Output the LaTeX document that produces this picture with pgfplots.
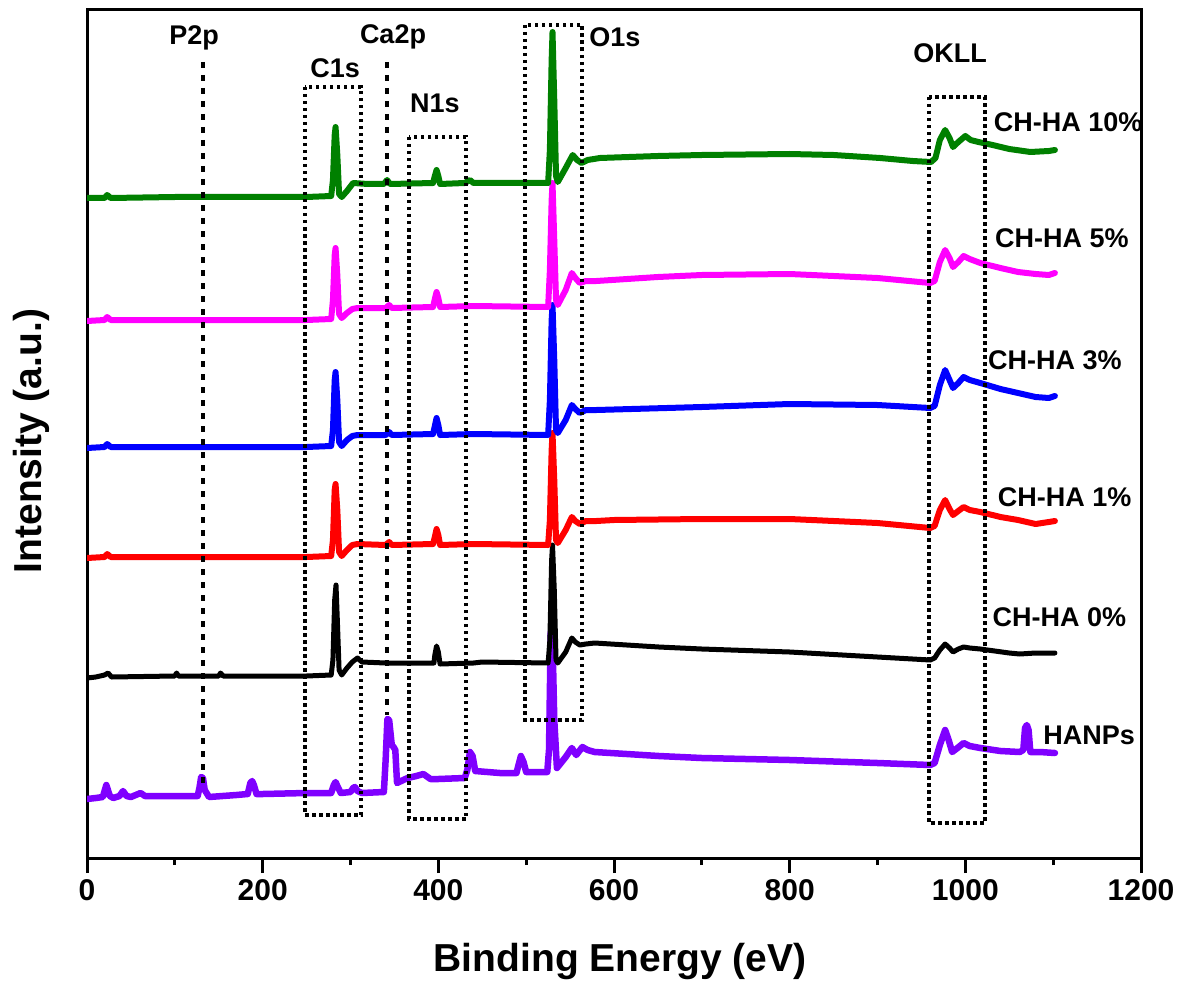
\documentclass[border=0pt]{standalone}
\usepackage{pgfplots}
\pgfplotsset{compat=1.18}
\usepackage{fontspec}
\setmainfont{Liberation Sans}
\definecolor{cgreen}{RGB}{0,128,0}
\definecolor{cmag}{RGB}{255,0,255}
\definecolor{cblue}{RGB}{0,0,255}
\definecolor{cred}{RGB}{255,0,0}
\definecolor{cpurp}{RGB}{127,0,255}
\begin{document}
\begin{tikzpicture}
\path[use as bounding box] (0,0) rectangle (1190pt,992pt);
\begin{axis}[
  at={(87pt,134pt)}, anchor=south west,
  width=1054pt, height=848pt, scale only axis,
  xmin=0, xmax=1200, ymin=10, ymax=858, y dir=reverse,
  axis line style={line width=3pt},
  xtick={0,200,...,1200}, minor xtick={100,300,...,1100},
  ytick=\empty,
  xtick pos=left,
  tick align=outside,
  major tick length=15pt, minor tick length=7pt,
  every tick/.style={black, line width=3pt},
  xticklabel style={font=\fontsize{30}{36}\selectfont\bfseries, yshift=-3pt},
  /pgf/number format/assume math mode=true,
  /pgf/number format/1000 sep={},
  xlabel={Binding Energy (eV)},
  xlabel style={font=\fontsize{39}{46}\selectfont\bfseries, at={(axis description cs:0.5057,-0.1215)}, anchor=center},
  ylabel={Intensity (a.u.)},
  ylabel style={font=\fontsize{39}{46}\selectfont\bfseries, at={(axis description cs:-0.0531,0.4917)}, anchor=center},
  every axis plot/.append style={line width=6pt, line join=round, line cap=round, no markers},
]
% HANPs
\addplot[color=cpurp, line width=6.5pt] coordinates {
(0,799)(10,798)(18,797)(22,785)(26,796)(30,798)(37,796)(41,791)(45,796)(50,797)(61,793)(66,796)(100,796)(126,796)(128,788)(130,777)(132,778)(134,790)(139,797)(170,795)(183,794)(186,783)(188,781)(190,785)(193,794)(200,794)(250,793)(278,793)(281,785)(283,782)(285,786)(289,793)(300,792)(303,788)(305,787)(308,791)(313,793)(338,792)(340,760)(342,719)(344,720)(347,745)(349,747)(351,750)(353,783)(365,778)(375,776)(383,774)(391,779)(400,779)(430,778)(433,770)(436,752)(439,756)(442,771)(470,773)(489,773)(491,766)(494,756)(497,762)(500,772)(524,772)(526,750)(528,632)(530,640)(532,720)(535,768)(545,757)(552,748)(557,755)(564,747)(570,750)(578,752)(651,756)(700,758)(800,760)(900,763)(960,765)(965,763)(971,745)(977,730)(981,740)(985,752)(991,748)(998,743)(1005,746)(1017,748)(1040,751)(1062,752)(1066,750)(1068,728)(1070,725)(1072,730)(1074,752)(1085,752)(1102,753)
};
% CH-HA 0%
\addplot[color=black, line width=5pt] coordinates {
(0,678)(10,677)(20,675)(24,673)(28,677)(100,676)(102,673)(104,676)(150,676)(152,673)(155,676)(200,676)(250,676)(278,675)(280,660)(282,600)(283.5,585)(285,620)(287,670)(290,675)(296,668)(302,662)(308,658)(313,662)(340,663)(395,663)(396,655)(398,646)(400,652)(402,664)(440,663)(450,662)(525,663)(527,640)(529,560)(530,545)(532,590)(534,660)(536,663)(545,652)(552,638)(556,642)(561,645)(568,644)(578,643)(651,647)(700,649)(800,652)(900,657)(960,660)(965,658)(971,650)(977,644)(982,648)(986,652)(992,649)(998,647)(1005,648)(1017,649)(1050,653)(1062,654)(1080,653)(1102,653)
};
% CH-HA 1%
\addplot[color=cred] coordinates {
(0,558)(20,557)(23,554)(27,557)(100,557)(200,557)(250,557)(278,556)(280,540)(282,490)(283,484)(285,510)(287,552)(290,556)(296,550)(302,545)(308,544)(340,545)(344,542)(347,545)(394,544)(396,537)(398,529)(400,535)(402,545)(440,544)(525,545)(527,520)(529,450)(530,433)(532,480)(534,540)(536,543)(545,530)(552,517)(556,521)(561,524)(568,521)(580,521)(600,520)(700,519)(800,519)(900,523)(960,528)(965,526)(971,510)(977,500)(982,509)(986,515)(992,511)(998,507)(1005,510)(1017,512)(1040,517)(1060,520)(1080,524)(1095,522)(1102,521)
};
% CH-HA 3%
\addplot[color=cblue] coordinates {
(0,448)(20,447)(23,444)(27,447)(100,447)(200,447)(250,447)(278,446)(280,430)(282,380)(283,372)(285,400)(287,442)(290,446)(296,440)(302,436)(308,435)(340,435)(344,432)(347,435)(394,434)(396,426)(398,418)(400,425)(402,435)(440,434)(525,435)(527,400)(529,320)(530,305)(532,360)(534,430)(536,433)(545,420)(552,405)(556,409)(561,413)(568,410)(580,410)(700,407)(800,404)(900,405)(960,408)(965,406)(971,385)(977,370)(982,380)(986,388)(992,383)(998,377)(1005,380)(1017,383)(1040,389)(1060,393)(1080,397)(1095,398)(1102,396)
};
% CH-HA 5%
\addplot[color=cmag] coordinates {
(0,321)(20,320)(23,317)(27,320)(100,320)(200,320)(250,320)(278,319)(280,300)(282,255)(283,248)(285,275)(287,314)(290,318)(296,313)(302,309)(308,308)(340,308)(344,305)(347,308)(394,307)(396,299)(398,292)(400,298)(402,307)(440,306)(525,307)(527,270)(529,200)(530,183)(532,240)(534,300)(536,305)(545,290)(552,273)(556,278)(561,283)(568,281)(580,281)(650,277)(700,275)(800,274)(900,278)(960,283)(965,281)(971,262)(977,250)(982,258)(986,267)(992,262)(998,256)(1005,259)(1017,263)(1040,268)(1060,272)(1080,274)(1095,275)(1102,273)
};
% CH-HA 10%
\addplot[color=cgreen] coordinates {
(0,198)(20,198)(23,195)(27,198)(100,197)(200,197)(250,197)(278,196)(280,180)(282,135)(283,127)(285,155)(287,194)(290,197)(296,191)(303,183)(320,184)(338,184)(341.6,180)(345,184)(394,183)(396,176)(398,170)(400,176)(402,184)(430,183)(436,180)(440,183)(480,183)(525,183)(527,150)(529,60)(530,32)(532,100)(534,176)(536,182)(545,168)(553,155)(558,160)(563,163)(570,160)(584,158)(650,156)(700,155)(800,154)(850,155)(903,158)(940,161)(961,162)(966,158)(971,140)(977,130)(982,138)(986,147)(992,142)(1000,136)(1006,140)(1015,142)(1031,145)(1050,149)(1074,152)(1095,151)(1102,150)
};
% dotted boxes and lines
\draw[line width=3.5pt, dash pattern=on 3.5pt off 3.5pt] (axis cs:248.2,87) rectangle (axis cs:312,815);
\draw[line width=3.5pt, dash pattern=on 3.5pt off 3.5pt] (axis cs:366.6,137) rectangle (axis cs:431.5,819);
\draw[line width=3.5pt, dash pattern=on 3.5pt off 3.5pt] (axis cs:498.7,25) rectangle (axis cs:563.6,720);
\draw[line width=3.5pt, dash pattern=on 3.5pt off 3.5pt] (axis cs:958.7,97) rectangle (axis cs:1022.4,823);
\draw[line width=3.5pt, dash pattern=on 6pt off 7pt] (axis cs:132,62) -- (axis cs:132,790);
\draw[line width=3.5pt, dash pattern=on 6pt off 7pt] (axis cs:341.6,62) -- (axis cs:341.6,715);
% labels
\begin{scope}[every node/.style={font=\fontsize{27}{32}\selectfont\bfseries, inner sep=0pt}]
\node at (axis cs:122,38) {P2p};
\node at (axis cs:348.4,37) {Ca2p};
\node at (axis cs:282.4,68) {C1s};
\node at (axis cs:396,103) {N1s};
\node at (axis cs:601,37) {O1s};
\node at (axis cs:982.6,53) {OKLL};
\node at (axis cs:1117,122) {CH-HA 10\%};
\node at (axis cs:1110,238) {CH-HA 5\%};
\node at (axis cs:1102,360) {CH-HA 3\%};
\node at (axis cs:1113,497) {CH-HA 1\%};
\node at (axis cs:1107,617) {CH-HA 0\%};
\node at (axis cs:1141,735) {HANPs};
\end{scope}
\end{axis}
\end{tikzpicture}
\end{document}
